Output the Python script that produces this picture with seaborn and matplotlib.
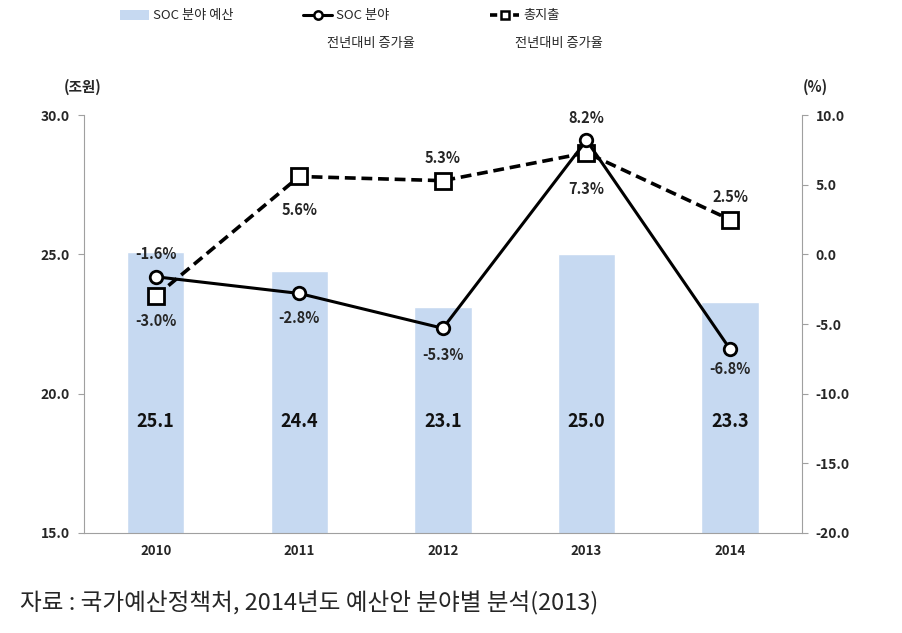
import numpy as np
import pandas as pd
import seaborn as sns
import matplotlib.pyplot as plt
from matplotlib.patches import Patch
from matplotlib.lines import Line2D

# data
years = ["2010", "2011", "2012", "2013", "2014"]
soc_budget = [25.1, 24.4, 23.1, 25.0, 23.3]
soc_growth = [-1.6, -2.8, -5.3, 8.2, -6.8]
total_growth = [-3.0, 5.6, 5.3, 7.3, 2.5]
left_ticks = [15.0, 20.0, 25.0, 30.0]
right_ticks = [-20.0, -15.0, -10.0, -5.0, 0.0, 5.0, 10.0]

df = pd.DataFrame({"year": years, "budget": soc_budget,
                   "soc": soc_growth, "total": total_growth})
df["pos"] = np.arange(len(df))

sns.set_style("white")
plt.rcParams['font.family'] = ['Noto Sans CJK KR', 'DejaVu Sans']

fig = plt.figure(figsize=(9.02, 6.33), dpi=100)
ax = fig.add_axes([0.093, 0.158, 0.796, 0.660])

bar_color = "#c6d9f1"
sns.barplot(data=df, x="year", y="budget", color=bar_color, width=0.4,
            saturation=1, ax=ax)
ax.set_ylim(15, 30)
ax.set_xlim(-0.5, 4.5)
ax.set_yticks(left_ticks)
ax.set_yticklabels([f"{t:.1f}" for t in left_ticks], fontsize=10, weight='bold')
ax.set_xticks(df["pos"])
ax.set_xticklabels(years, fontsize=9.5, weight='bold')
ax.set_xlabel("")
ax.set_ylabel("")
for s in ["top", "right"]:
    ax.spines[s].set_visible(False)
for s in ["left", "bottom"]:
    ax.spines[s].set_color("#a0a0a0")
ax.tick_params(axis='y', length=4, color="#a0a0a0", direction='out', pad=6)
ax.tick_params(axis='x', length=0, pad=8)

# bar values
for i, v in enumerate(df["budget"]):
    ax.text(i, 19.0, f"{v:.1f}", ha='center', va='center', fontsize=13,
            weight='bold', color='#111111')

ax2 = ax.twinx()
sns.lineplot(data=df, x="pos", y="soc", ax=ax2, color='black', lw=2.2,
             marker='o', markersize=9, markerfacecolor='white',
             markeredgecolor='black', markeredgewidth=2, zorder=4)
sns.lineplot(data=df, x="pos", y="total", ax=ax2, color='black', lw=2.6,
             linestyle=(0, (3, 1.6)), marker='s', markersize=11,
             markerfacecolor='white', markeredgecolor='black',
             markeredgewidth=2, zorder=3)
ax2.set_ylim(-20, 10)
ax2.set_xlim(-0.5, 4.5)
ax2.set_yticks(right_ticks)
ax2.set_yticklabels([f"{t:.1f}" for t in right_ticks], fontsize=10, weight='bold')
ax2.set_xlabel("")
ax2.set_ylabel("")
for s in ["top", "left", "bottom"]:
    ax2.spines[s].set_visible(False)
ax2.spines["right"].set_color("#a0a0a0")
ax2.tick_params(axis='y', length=4, color="#a0a0a0", direction='out', pad=6)

# percentage labels (offset in points: + above, - below)
soc_off = [16.5, -18, -19.5, 16, -14.5]
tot_off = [-18, -24, 16.5, -26, 16.5]
for i in range(len(df)):
    ax2.annotate(f"{soc_growth[i]:.1f}%", (i, soc_growth[i]),
                 xytext=(0, soc_off[i]), textcoords='offset points',
                 ha='center', va='center', fontsize=10.5, weight='bold')
    ax2.annotate(f"{total_growth[i]:.1f}%", (i, total_growth[i]),
                 xytext=(0, tot_off[i]), textcoords='offset points',
                 ha='center', va='center', fontsize=10.5, weight='bold')

# unit labels
fig.text(83 / 902, 1 - 87 / 633, "(조원)", ha='center', va='center',
         fontsize=10.5, weight='bold')
fig.text(815 / 902, 1 - 87 / 633, "(%)", ha='center', va='center',
         fontsize=10.5, weight='bold')

# legend
h_bar = Patch(facecolor=bar_color, edgecolor='none')
h_soc = Line2D([], [], color='black', lw=2.2, marker='o', markersize=6,
               markerfacecolor='white', markeredgewidth=1.8)
h_tot = Line2D([], [], color='black', lw=2.6, linestyle=(0, (2, 1.2)),
               marker='s', markersize=6, markerfacecolor='white',
               markeredgewidth=1.8)
leg_kw = dict(frameon=False, fontsize=9.5, handlelength=2.2,
              handletextpad=0.3, loc='center left', borderaxespad=0)
fig.legend([h_bar], ["SOC 분야 예산"], bbox_to_anchor=(115 / 902, 1 - 16 / 633), **leg_kw)
fig.legend([h_soc], ["SOC 분야"], bbox_to_anchor=(298 / 902, 1 - 16 / 633), **leg_kw)
fig.legend([h_tot], ["총지출"], bbox_to_anchor=(485 / 902, 1 - 16 / 633), **leg_kw)
fig.text(327 / 902, 1 - 44 / 633, "전년대비 증가율", ha='left', va='center', fontsize=9.5)
fig.text(515 / 902, 1 - 44 / 633, "전년대비 증가율", ha='left', va='center', fontsize=9.5)

# source
fig.text(20 / 902, 1 - 603 / 633,
         "자료 : 국가예산정책처, 2014년도 예산안 분야별 분석(2013)",
         ha='left', va='center', fontsize=17)

fig.savefig("out.png", dpi=100)
